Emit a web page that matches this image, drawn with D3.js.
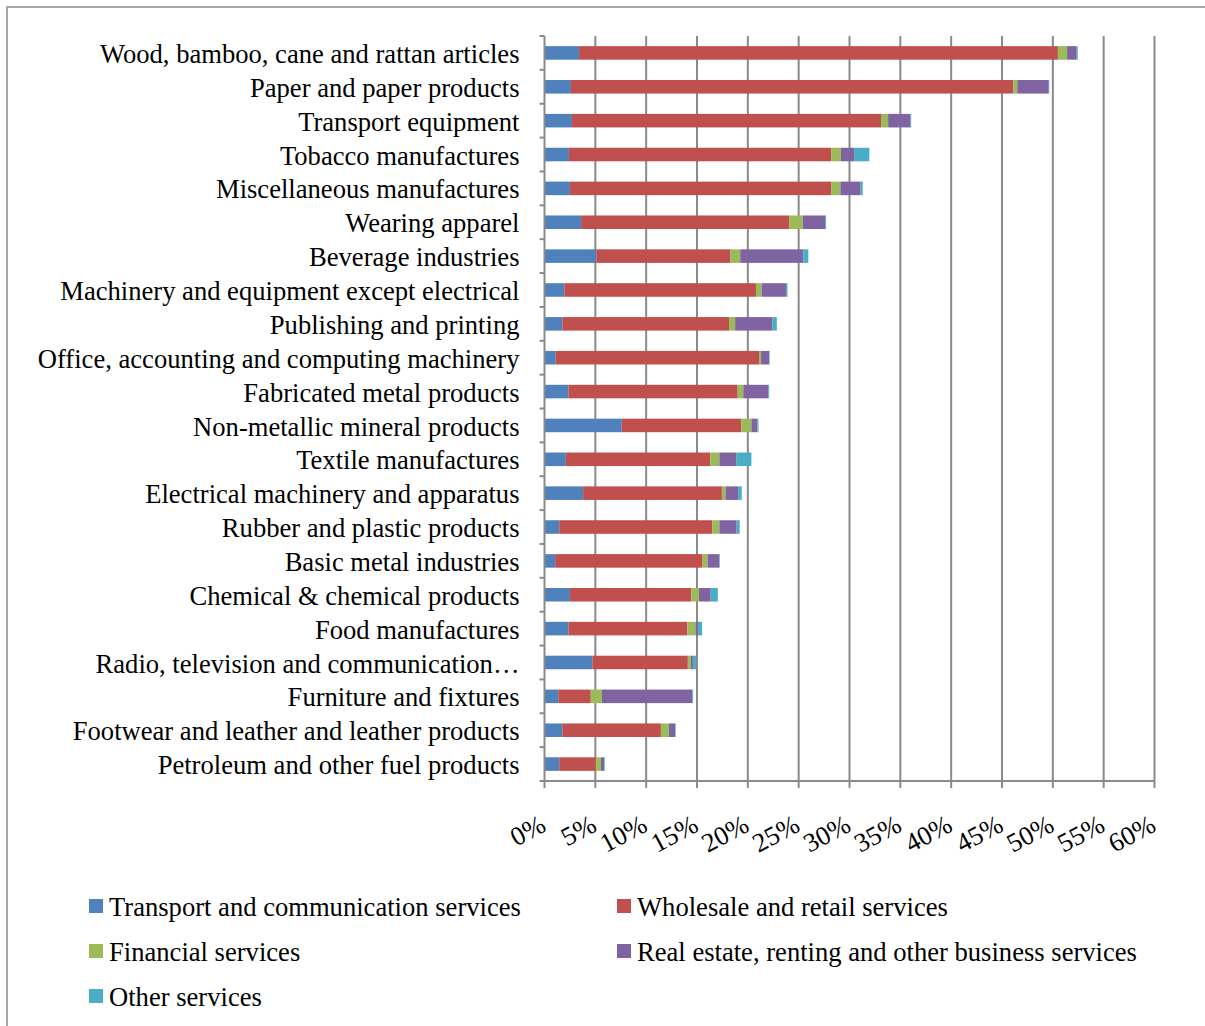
<!DOCTYPE html>
<html>
<head>
<meta charset="utf-8">
<script src="https://cdn.jsdelivr.net/npm/d3@7"></script>
<style>
  body { margin: 0; background: #fff; }
  text { font-family: "Liberation Serif", "Times New Roman", serif; fill: #000; }
</style>
</head>
<body>
<div id="chart"></div>
<script>
var width = 1205;
var height = 1026;

// industries, top to bottom
var categories = [
  'Wood, bamboo, cane and rattan articles',
  'Paper and paper products',
  'Transport equipment',
  'Tobacco manufactures',
  'Miscellaneous manufactures',
  'Wearing apparel',
  'Beverage industries',
  'Machinery and equipment except electrical',
  'Publishing and printing',
  'Office, accounting and computing machinery',
  'Fabricated metal products',
  'Non-metallic mineral products',
  'Textile manufactures',
  'Electrical machinery and apparatus',
  'Rubber and plastic products',
  'Basic metal industries',
  'Chemical & chemical products',
  'Food manufactures',
  'Radio, television and communication\u2026',
  'Furniture and fixtures',
  'Footwear and leather and leather products',
  'Petroleum and other fuel products'
];

var seriesNames = [
  'Transport and communication services',
  'Wholesale and retail services',
  'Financial services',
  'Real estate, renting and other business services',
  'Other services'
];

var transport = [3.4, 2.6, 2.7, 2.4, 2.5, 3.6, 5.1, 1.95, 1.75, 1.1, 2.35, 7.6, 2.1, 3.8, 1.45, 1.05, 2.5, 2.35, 4.7, 1.35, 1.75, 1.45];
var wholesale = [47.1, 43.5, 30.4, 25.8, 25.7, 20.5, 13.2, 18.85, 16.4, 20.0, 16.65, 11.75, 14.2, 13.65, 15.05, 14.5, 11.95, 11.7, 9.4, 3.2, 9.7, 3.6];
var financial = [0.9, 0.4, 0.7, 0.95, 0.9, 1.3, 0.95, 0.55, 0.6, 0.2, 0.55, 1.0, 0.9, 0.35, 0.7, 0.5, 0.75, 0.8, 0.3, 1.1, 0.8, 0.5];
var realEstate = [0.95, 3.1, 2.2, 1.3, 2.0, 2.2, 6.2, 2.4, 3.65, 0.8, 2.45, 0.6, 1.65, 1.25, 1.7, 1.15, 1.15, 0.25, 0.2, 8.9, 0.6, 0.3];
var other = [0.1, 0.05, 0.07, 1.5, 0.2, 0.1, 0.5, 0.15, 0.45, 0.05, 0.1, 0.1, 1.5, 0.35, 0.3, 0.05, 0.7, 0.4, 0.3, 0.07, 0.06, 0.07];

var xTicks = [0, 5, 10, 15, 20, 25, 30, 35, 40, 45, 50, 55, 60];
var colors = ['#4F81BD', '#C0504D', '#9BBB59', '#8064A2', '#4BACC6'];

var keys = ['transport', 'wholesale', 'financial', 'realEstate', 'other'];
var rows = categories.map(function(c, i) {
  return { name: c, transport: transport[i], wholesale: wholesale[i],
    financial: financial[i], realEstate: realEstate[i], other: other[i] };
});
var stacked = d3.stack().keys(keys)(rows);

var plot = { left: 544.5, right: 1154.5, top: 36, bottom: 781 };
var fontSize = '26.6px';

var x = d3.scaleLinear().domain([0, 60]).range([plot.left, plot.right]);
var y = d3.scaleBand().domain(categories).range([plot.top, plot.bottom]).paddingInner(0.6).paddingOuter(0.3);
var yOuter = d3.scaleBand().domain(categories).range([plot.top, plot.bottom]);

var svg = d3.select('#chart').append('svg')
  .attr('width', width)
  .attr('height', height);

// outer chart border (runs off the right and bottom)
svg.append('rect')
  .attr('x', 7).attr('y', 7)
  .attr('width', 1220).attr('height', 1040)
  .attr('fill', 'none')
  .attr('stroke', '#8c8c8c')
  .attr('stroke-width', 1.5);

// vertical gridlines
svg.append('g').selectAll('line')
  .data(xTicks.slice(1))
  .enter().append('line')
  .attr('x1', function(d) { return x(d); })
  .attr('x2', function(d) { return x(d); })
  .attr('y1', plot.top).attr('y2', plot.bottom)
  .attr('stroke', '#8a8a8a')
  .attr('stroke-width', 2);

// bars
svg.append('g').selectAll('g')
  .data(stacked)
  .enter().append('g')
  .attr('fill', function(d, i) { return colors[i]; })
  .selectAll('rect')
  .data(function(d) { return d; })
  .enter().append('rect')
  .attr('x', function(d) { return x(d[0]); })
  .attr('width', function(d) { return Math.max(0, x(d[1]) - x(d[0])); })
  .attr('y', function(d) { return y(d.data.name); })
  .attr('height', y.bandwidth());

// axes
var axisG = svg.append('g').attr('stroke', '#8a8a8a').attr('stroke-width', 2);
axisG.append('line')
  .attr('x1', plot.left).attr('x2', plot.left)
  .attr('y1', plot.top).attr('y2', plot.bottom);
axisG.append('line')
  .attr('x1', plot.left - 5).attr('x2', plot.right)
  .attr('y1', plot.bottom).attr('y2', plot.bottom);
axisG.selectAll('.ytick')
  .data(categories)
  .enter().append('line')
  .attr('x1', plot.left - 5).attr('x2', plot.left)
  .attr('y1', function(d) { return yOuter(d); })
  .attr('y2', function(d) { return yOuter(d); });
axisG.selectAll('.xtick')
  .data(xTicks)
  .enter().append('line')
  .attr('x1', function(d) { return x(d); })
  .attr('x2', function(d) { return x(d); })
  .attr('y1', plot.bottom).attr('y2', plot.bottom + 7);

// category labels
svg.append('g').selectAll('text')
  .data(categories)
  .enter().append('text')
  .attr('x', plot.left - 25)
  .attr('y', function(d) { return yOuter(d) + yOuter.bandwidth() / 2; })
  .attr('dy', '0.38em')
  .attr('text-anchor', 'end')
  .style('font-size', fontSize)
  .text(function(d) { return d; });

// x tick labels, rotated
svg.append('g').selectAll('text')
  .data(xTicks)
  .enter().append('text')
  .attr('transform', function(d) { return 'translate(' + (x(d) + 3) + ',' + (plot.bottom + 49) + ') rotate(-28)'; })
  .attr('text-anchor', 'end')
  .style('font-size', fontSize)
  .text(function(d) { return d + '%'; });

// legend
var legendPos = [[89, 906], [617, 906], [89, 951], [617, 951], [89, 996]];
var legend = svg.append('g').selectAll('g')
  .data(seriesNames)
  .enter().append('g')
  .attr('transform', function(d, i) { return 'translate(' + legendPos[i][0] + ',' + legendPos[i][1] + ')'; });
legend.append('rect')
  .attr('x', 0).attr('y', -7)
  .attr('width', 14).attr('height', 14)
  .attr('fill', function(d, i) { return colors[i]; });
legend.append('text')
  .attr('x', 20).attr('y', 0)
  .attr('dy', '0.38em')
  .style('font-size', fontSize)
  .text(function(d) { return d; });
</script>
</body>
</html>
